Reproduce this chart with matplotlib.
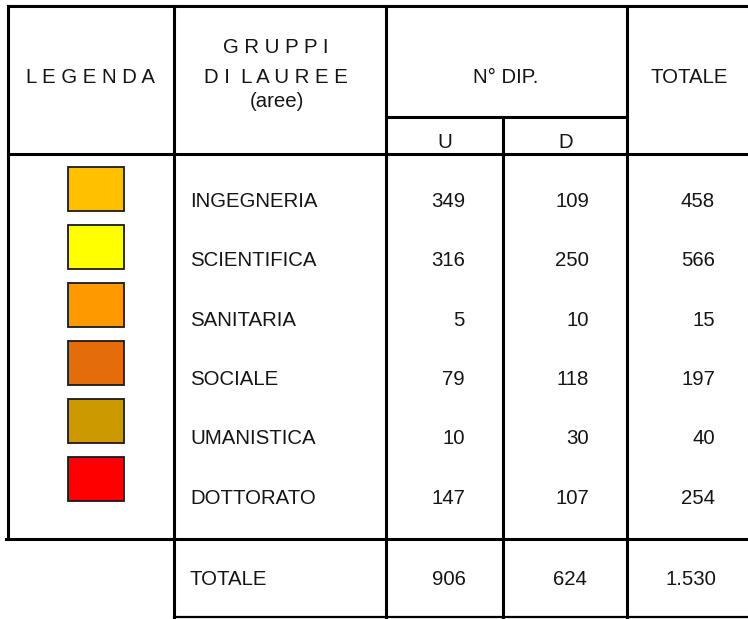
import matplotlib

matplotlib.use("Agg")
import matplotlib.pyplot as plt
from matplotlib.patches import Rectangle

plt.rcParams["font.family"] = ["Liberation Sans", "DejaVu Sans"]

# table contents
groups = ["INGEGNERIA", "SCIENTIFICA", "SANITARIA", "SOCIALE", "UMANISTICA", "DOTTORATO"]
swatch_colors = ["#FFC000", "#FFFF00", "#FF9900", "#E46C0A", "#CC9900", "#FF0000"]
dip_u = [349, 316, 5, 79, 10, 147]
dip_d = [109, 250, 10, 118, 30, 107]
totale = [458, 566, 15, 197, 40, 254]
tot_u = "906"
tot_d = "624"
tot_all = "1.530"

W, H = 748, 619
FS = 14.7
LW = 2.2
TXT = "#151515"

fig = plt.figure(figsize=(W / 100, H / 100), dpi=100)
ax = fig.add_axes([0, 0, 1, 1])
ax.set_xlim(0, W)
ax.set_ylim(H, 0)
ax.axis("off")


def hline(y, x0, x1, lw=LW):
    ax.plot([x0, x1], [y, y], color="black", lw=lw, solid_capstyle="projecting")


def vline(x, y0, y1, lw=LW):
    ax.plot([x, x], [y0, y1], color="black", lw=lw, solid_capstyle="projecting")


def txt(x, y, s, ha="center"):
    ax.text(x, y, s, fontsize=FS, ha=ha, va="baseline", color=TXT)


# grid lines
hline(6, 8, W)
hline(117, 386, 627)
hline(154, 8, W)
hline(539, 6, W)
hline(617, 174, W, lw=1.6)
vline(8, 6, 539)
vline(174, 6, 617)
vline(386, 6, 617)
vline(503, 117, 617)
vline(627, 6, 617)

# header
txt(91, 83, "L E G E N D A")
txt(276, 53, "G R U P P I")
txt(276, 83, "D I  L A U R E E")
txt(277, 107, "(aree)")
txt(506, 83, "N° DIP.")
txt(689, 83, "TOTALE")
txt(445, 148, "U")
txt(566, 148, "D")

# body rows
for i, (g, c, u, d, t) in enumerate(zip(groups, swatch_colors, dip_u, dip_d, totale)):
    base = 207 + i * 59.3
    top = 167 + i * 58
    ax.add_patch(Rectangle((68, top), 56, 44, facecolor=c, edgecolor="#1a1a1a", lw=1.3))
    txt(190, base, g, ha="left")
    txt(465, base, str(u), ha="right")
    txt(589, base, str(d), ha="right")
    txt(715, base, str(t), ha="right")

# total row
txt(190, 585, "TOTALE", ha="left")
txt(466, 585, tot_u, ha="right")
txt(587, 585, tot_d, ha="right")
txt(716, 585, tot_all, ha="right")

fig.savefig("out.png", dpi=100, facecolor="white")
plt.close(fig)
